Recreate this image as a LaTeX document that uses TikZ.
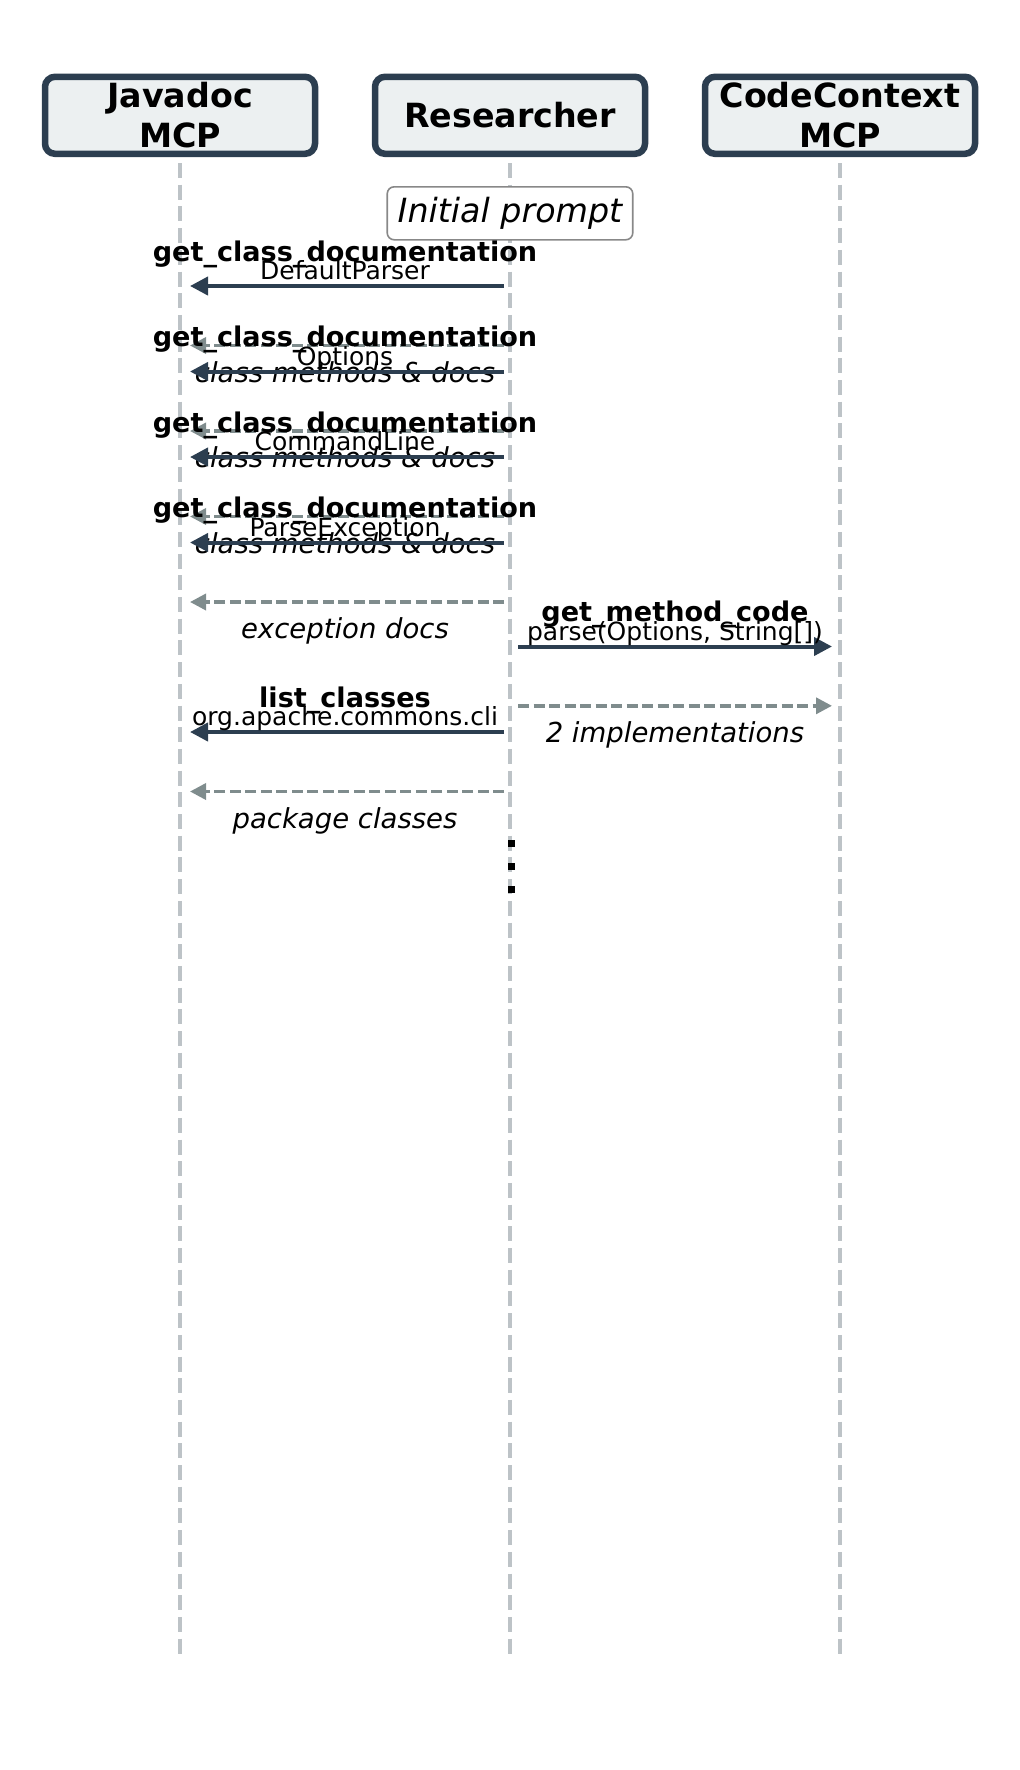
\documentclass[tikz,border=0pt]{standalone}
\usepackage{fontspec}
\setmainfont{DejaVu Sans}
\usetikzlibrary{arrows.meta}
\definecolor{navy}{HTML}{2C3E50}
\definecolor{retc}{HTML}{7F8C8D}
\definecolor{lifec}{HTML}{BDC3C7}
\definecolor{boxfill}{HTML}{ECF0F1}
\definecolor{promptc}{HTML}{888888}
\begin{document}
\begin{tikzpicture}[x=1pt,y=-1pt,
  party/.style={draw=navy, line width=6.5pt, fill=boxfill, rounded corners=10pt,
    minimum width=270pt, minimum height=77pt, align=center, inner sep=0pt,
    font=\fontsize{33.3}{40}\selectfont\bfseries},
  life/.style={draw=lifec, line width=4pt, dash pattern=on 15pt off 6.7pt},
  call/.style={draw=navy, line width=4pt, -{Triangle[length=18pt,width=18pt]}},
  ret/.style={draw=retc, line width=3.5pt, dash pattern=on 11pt off 4.5pt,
    -{Triangle[length=16pt,width=16pt]}},
  mlab/.style={anchor=base, inner sep=0pt, font=\fontsize{27.1}{30}\selectfont\bfseries},
  alab/.style={anchor=base, inner sep=0pt, font=\fontsize{25}{28}\selectfont},
  rlab/.style={anchor=base, inner sep=0pt, font=\fontsize{27.5}{30}\selectfont\itshape},
  prompt/.style={draw=promptc, line width=1.6pt, fill=white, rounded corners=7pt,
    inner xsep=10.5pt, minimum height=53pt, font=\fontsize{33.3}{37}\selectfont\itshape},
  dotsq/.style={fill=black, minimum size=7pt, inner sep=0pt}
]
\useasboundingbox (0,0) rectangle (1020,1770);

% lifelines
\coordinate (jvtop) at (180,163);  \coordinate (jvbot) at (180,1655);
\coordinate (rstop) at (510,163);  \coordinate (rsbot) at (510,1655);
\coordinate (cctop) at (840,163);  \coordinate (ccbot) at (840,1655);
\draw[life] (jvtop) -- (jvbot);
\draw[life] (rstop) -- (rsbot);
\draw[life] (cctop) -- (ccbot);

% participants
\node[party] (jv) at (180,115.3) {Javadoc\\MCP};
\node[party] (rs) at (510,115.3) {Researcher};
\node[party] (cc) at (840,115.3) {CodeContext\\MCP};

% initial prompt
\node[prompt] (ip) at (510,213.3) {Initial prompt};

% message coordinates
\foreach \n/\y in {a1/286,r1/345.5,a2/371.5,r2/431,a3/457,r3/516.5,a4/542.5,r4/602,a6/732,r6/791.5}{
  \coordinate (\n s) at (504,\y);
  \coordinate (\n e) at (190,\y);
}
\foreach \n/\y in {a5/646.5,r5/705.8}{
  \coordinate (\n s) at (518,\y);
  \coordinate (\n e) at (832,\y);
}

% call 1
\draw[call] (a1s) -- (a1e);
\node[mlab] (m1) at (345,261) {get\_class\_documentation};
\node[alab] (p1) at (345,279.5) {DefaultParser};
\draw[ret] (r1s) -- (r1e);
\node[rlab] (t1) at (345,382) {class methods \& docs};

% call 2
\draw[call] (a2s) -- (a2e);
\node[mlab] (m2) at (345,346.5) {get\_class\_documentation};
\node[alab] (p2) at (345,365) {Options};
\draw[ret] (r2s) -- (r2e);
\node[rlab] (t2) at (345,467.5) {class methods \& docs};

% call 3
\draw[call] (a3s) -- (a3e);
\node[mlab] (m3) at (345,432) {get\_class\_documentation};
\node[alab] (p3) at (345,450.5) {CommandLine};
\draw[ret] (r3s) -- (r3e);
\node[rlab] (t3) at (345,553) {class methods \& docs};

% call 4
\draw[call] (a4s) -- (a4e);
\node[mlab] (m4) at (345,517.5) {get\_class\_documentation};
\node[alab] (p4) at (345,536) {ParseException};
\draw[ret] (r4s) -- (r4e);
\node[rlab] (t4) at (345,638.5) {exception docs};

% call 5
\draw[call] (a5s) -- (a5e);
\node[mlab] (m5) at (675,621.5) {get\_method\_code};
\node[alab] (p5) at (675,640) {parse(Options, String[])};
\draw[ret] (r5s) -- (r5e);
\node[rlab] (t5) at (675,742.3) {2 implementations};

% call 6
\draw[call] (a6s) -- (a6e);
\node[mlab] (m6) at (345,707) {list\_classes};
\node[alab] (p6) at (345,725.5) {org.apache.commons.cli};
\draw[ret] (r6s) -- (r6e);
\node[rlab] (t6) at (345,828) {package classes};

% continuation dots
\node[dotsq] (d1) at (511,843) {};
\node[dotsq] (d2) at (511,866) {};
\node[dotsq] (d3) at (511,889) {};
\end{tikzpicture}
\end{document}
